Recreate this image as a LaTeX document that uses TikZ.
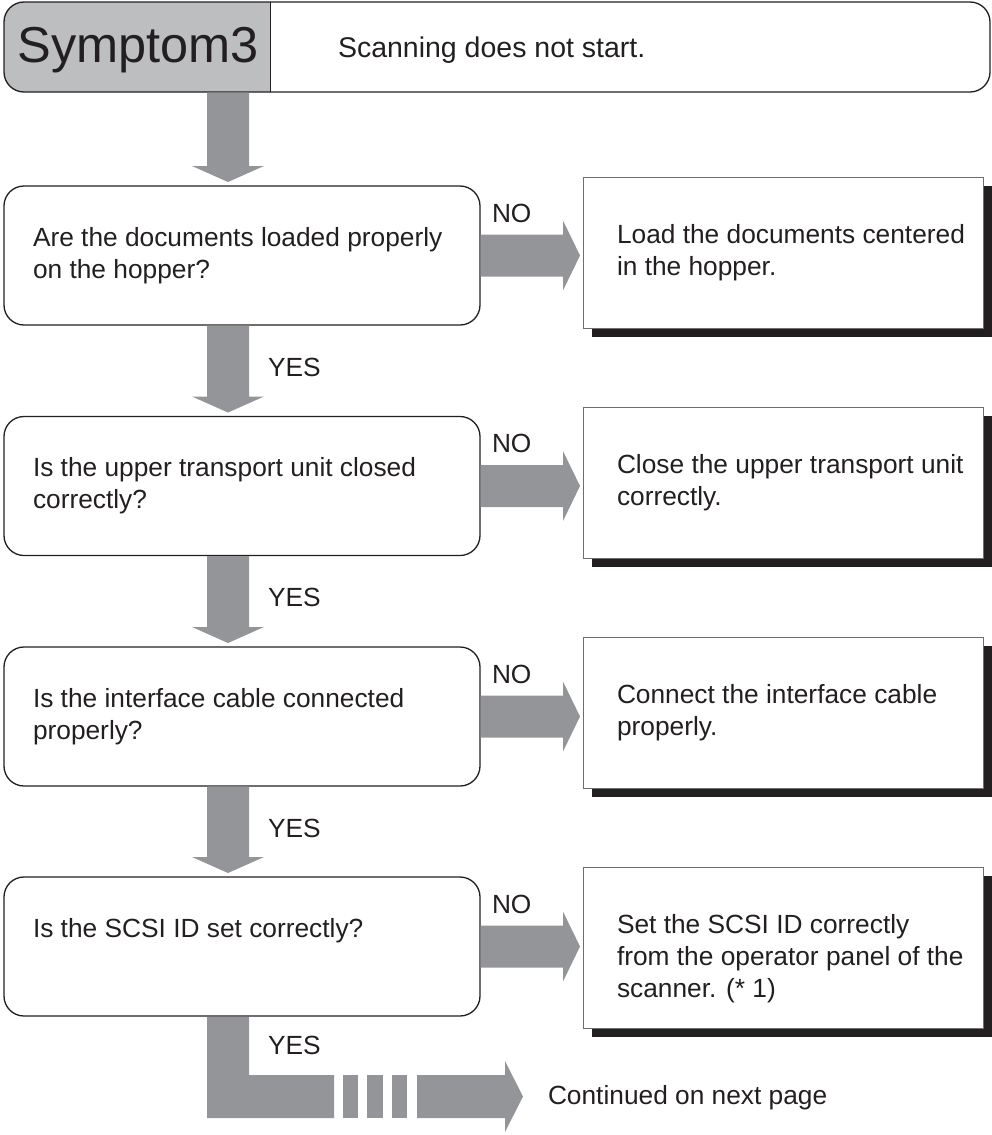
\documentclass[tikz,border=0pt]{standalone}
\usepackage{fontspec}
\setmainfont{Liberation Sans}
\usetikzlibrary{calc,shadows}

\definecolor{arrowgray}{HTML}{939598}
\definecolor{tabgray}{HTML}{BCBEC0}
\definecolor{inkblack}{HTML}{231F20}
\definecolor{framegray}{HTML}{6D6E71}

\begin{document}
\begin{tikzpicture}[x=1pt, y=-1pt,
  every node/.style={inner sep=0pt, outer sep=0pt},
  txt/.style={font=\fontsize{26.3}{32}\selectfont, text=inkblack, align=left},
  query/.style={draw=inkblack, line width=1.3pt, rounded corners=20pt,
    minimum width=476pt, minimum height=139pt},
  remedy/.style={draw=framegray, line width=1pt, fill=white,
    minimum width=400pt, minimum height=151pt,
    general shadow={shadow xshift=9pt, shadow yshift=-9pt, fill=inkblack}},
  fatarrow/.style={fill=arrowgray}]
  \useasboundingbox (0,0) rectangle (992,1135);

  % title bar
  \begin{scope}
    \clip (4,2) rectangle (270,92);
    \fill[tabgray, rounded corners=20pt] (4,2) rectangle (990,92);
  \end{scope}
  \node[draw=inkblack, line width=1.3pt, rounded corners=20pt,
    minimum width=986pt, minimum height=90pt] (head) at (497,47) {};
  \draw[inkblack, line width=1pt] (270,0 |- head.north) -- (270,0 |- head.south);
  \node[font=\fontsize{50.5}{60}\selectfont, text=inkblack, anchor=base] (tag) at (138,62) {Symptom3};
  \node[txt, font=\fontsize{28.5}{34}\selectfont, anchor=base west] (title) at (338,57) {Scanning does not start.};

  % questions
  \node[query] (q1) at (242,255.5) {};
  \node[query] (q2) at (242,486) {};
  \node[query] (q3) at (242,716.5) {};
  \node[query] (q4) at (242,946.5) {};

  % remedies
  \node[remedy] (r1) at (783,252.5) {};
  \node[remedy] (r2) at (783,482.5) {};
  \node[remedy] (r3) at (783,712.5) {};
  \node[remedy, minimum height=161pt] (r4) at (783,947.5) {};

  \foreach \k/\t in {1/{Are the documents loaded properly\\on the hopper?},
                     2/{Is the upper transport unit closed\\correctly?},
                     3/{Is the interface cable connected\\properly?},
                     4/{Is the SCSI ID set correctly?}}
    \node[txt, anchor=north west] (qt\k) at ([xshift=29pt, yshift=-41pt]q\k.north west) {\t};

  \foreach \k/\t in {1/{Load the documents centered\\in the hopper.},
                     2/{Close the upper transport unit\\correctly.},
                     3/{Connect the interface cable\\properly.},
                     4/{Set the SCSI ID correctly\\from the operator panel of the\\scanner. (* 1)}}
    \node[txt, anchor=north west] (rt\k) at ([xshift=34pt, yshift=-47pt]r\k.north west) {\t};

  % YES arrows
  \coordinate (col) at (228,0);
  \foreach \a/\b in {head/q1, q1/q2, q2/q3, q3/q4}
    \fill[fatarrow] let \p1=(\a.south -| col), \p2=(\b.north -| col) in
      (\x1-21pt,\y1-0.65pt) -- (\x1-21pt,\y2+20pt) -- (\x1-36pt,\y2+20pt) -- (\x1,\y2+4pt)
      -- (\x1+36pt,\y2+20pt) -- (\x1+21pt,\y2+20pt) -- (\x1+21pt,\y1-0.65pt) -- cycle;
  \foreach \k in {1,2,3}
    \node[txt, anchor=west] (yes\k) at ($(q\k.south -| col)+(40,42)$) {YES};

  % NO arrows
  \foreach \k in {1,...,4} {
    \fill[fatarrow] let \p1=(q\k.east), \p2=(r\k.west) in
      (\x1+0.65pt,\y1+21pt) -- (\x2-20pt,\y1+21pt) -- (\x2-20pt,\y1+35pt) -- (\x2-3pt,\y1)
      -- (\x2-20pt,\y1-35pt) -- (\x2-20pt,\y1-21pt) -- (\x1+0.65pt,\y1-21pt) -- cycle;
    \node[txt, anchor=west] (no\k) at ([xshift=12pt, yshift=-27pt]q\k.north east) {NO};
  }

  % continuation
  \coordinate (turn) at (q4.south -| col);
  \node[txt, anchor=west] (yes4) at ($(turn)+(40,29)$) {YES};
  \fill[fatarrow] ($(turn)+(-21,1)$) -- ++(42,0) -- ++(0,58) -- ++(85,0) -- ++(0,43) -- ++(-127,0) -- cycle;
  \foreach \bx/\bw in {115/15, 139/16, 164/15}
    \fill[fatarrow] ($(turn)+(\bx,59)$) rectangle ++(\bw,43);
  \fill[fatarrow] ($(turn)+(189,59)$) -- ++(88,0) -- ++(0,-14) -- ++(18,35.5)
    -- ++(-18,35.5) -- ++(0,-14) -- ++(-88,0) -- cycle;
  \node[txt, anchor=base west] (cont) at (548,1104) {Continued on next page};
\end{tikzpicture}
\end{document}
